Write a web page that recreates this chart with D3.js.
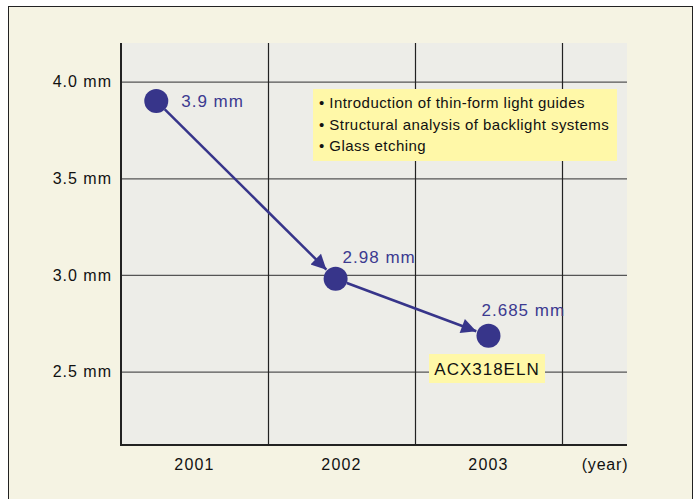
<!DOCTYPE html>
<html>
<head>
<meta charset="utf-8">
<script src="https://cdn.jsdelivr.net/npm/d3@7"></script>
<style>
  body { margin: 0; background: #fff; }
  svg text { font-family: "Liberation Sans", Arial, sans-serif; }
</style>
</head>
<body>
<div id="chart"></div>
<script>
// data
var years = [2001, 2002, 2003]
var pointYears = [2001.24, 2002.46, 2003.5]   // position inside each year
var thickness = [3.9, 2.98, 2.685]
var valueLabels = ["3.9 mm", "2.98 mm", "2.685 mm"]
var yTicks = [2.5, 3.0, 3.5, 4.0]
var notes = ["• Introduction of thin-form light guides",
             "• Structural analysis of backlight systems",
             "• Glass etching"]
var modelName = "ACX318ELN"

var W = 699, H = 499
var plot = {left: 121, right: 627, top: 43, bottom: 445}
var dotColor = "#37358a"

var svg = d3.select("#chart").append("svg")
    .attr("width", W)
    .attr("height", H)

svg.append("defs").append("marker")
    .attr("id", "arrow")
    .attr("viewBox", "0 0 10 10")
    .attr("refX", 10).attr("refY", 5)
    .attr("markerUnits", "userSpaceOnUse")
    .attr("markerWidth", 19).attr("markerHeight", 15)
    .attr("orient", "auto")
  .append("path")
    .attr("d", "M0,0 L10,5 L0,10 z")
    .attr("fill", dotColor)

// outer frame
svg.append("rect")
    .attr("x", 8.5).attr("y", 6.5)
    .attr("width", 684).attr("height", 510)
    .attr("fill", "#f5f3e3")
    .attr("stroke", "#222")
    .attr("stroke-width", 1)

var x = d3.scaleLinear()
    .domain([2001, 2004])
    .range([plot.left, 562])

var y = d3.scaleLinear()
    .domain([2.12, 4.2])
    .range([plot.bottom, plot.top])

svg.append("rect")
    .attr("x", plot.left).attr("y", plot.top)
    .attr("width", plot.right - plot.left)
    .attr("height", plot.bottom - plot.top)
    .attr("fill", "#ededE8")

// horizontal grid
svg.append("g")
    .attr("class", "grid grid--y")
    .attr("transform", "translate(" + plot.left + ",0)")
    .call(d3.axisLeft(y)
        .tickValues(yTicks)
        .tickSize(-(plot.right - plot.left))
        .tickFormat(""))
    .call(function(g){
        g.select(".domain").remove()
        g.selectAll("line").attr("stroke", "#555").attr("stroke-width", 1.2)
    })

// vertical grid
svg.append("g")
    .attr("class", "grid grid--x")
    .attr("transform", "translate(0," + plot.top + ")")
    .call(d3.axisTop(x)
        .tickValues([2002, 2003, 2004])
        .tickSize(-(plot.bottom - plot.top))
        .tickFormat(""))
    .call(function(g){
        g.select(".domain").remove()
        g.selectAll("line").attr("stroke", "#222").attr("stroke-width", 1.2)
    })

// axis lines
svg.append("line")
    .attr("x1", plot.left).attr("x2", plot.left)
    .attr("y1", plot.top).attr("y2", plot.bottom + 1)
    .attr("stroke", "#222").attr("stroke-width", 2)
svg.append("line")
    .attr("x1", plot.left).attr("x2", plot.right)
    .attr("y1", plot.bottom).attr("y2", plot.bottom)
    .attr("stroke", "#222").attr("stroke-width", 2)

// y labels
svg.append("g")
    .attr("class", "axis axis--y")
    .attr("transform", "translate(" + plot.left + ",0)")
    .call(d3.axisLeft(y)
        .tickValues(yTicks)
        .tickSize(0)
        .tickPadding(9)
        .tickFormat(function(d){ return d3.format(".1f")(d) + " mm" }))
    .call(function(g){
        g.select(".domain").remove()
        g.selectAll("text").attr("font-size", 16).attr("fill", "#111")
            .attr("letter-spacing", 1)
            .attr("font-family", "Liberation Sans, Arial, sans-serif")
    })

// x labels (centred in each year)
svg.append("g")
    .attr("class", "axis axis--x")
    .selectAll("text")
    .data(years)
    .join("text")
    .attr("x", function(d){ return x(d + 0.5) })
    .attr("y", 470)
    .attr("text-anchor", "middle")
    .attr("font-size", 16)
    .attr("letter-spacing", 1.2)
    .attr("fill", "#111")
    .text(function(d){ return d })

svg.append("text")
    .attr("x", 605).attr("y", 470)
    .attr("text-anchor", "middle")
    .attr("font-size", 16)
    .attr("letter-spacing", 0.8)
    .attr("fill", "#111")
    .text("(year)")

// notes box
var notesBox = svg.append("g")
notesBox.append("rect")
    .attr("x", 313).attr("y", 89)
    .attr("width", 304).attr("height", 72)
    .attr("fill", "#fff8a8")
notesBox.selectAll("text")
    .data(notes)
    .join("text")
    .attr("x", 319)
    .attr("y", function(d, i){ return 108 + i * 21.5 })
    .attr("font-size", 15)
    .attr("letter-spacing", 0.45)
    .attr("fill", "#111")
    .text(function(d){ return d })

// arrows between points
var pts = pointYears.map(function(d, i){ return {x: x(d), y: y(thickness[i])} })
var r = 12
for (var i = 0; i < pts.length - 1; i++){
    var a = pts[i], b = pts[i + 1]
    var dx = b.x - a.x, dy = b.y - a.y
    var len = Math.sqrt(dx * dx + dy * dy)
    svg.append("line")
        .attr("x1", a.x + dx / len * r).attr("y1", a.y + dy / len * r)
        .attr("x2", b.x - dx / len * (r + 1)).attr("y2", b.y - dy / len * (r + 1))
        .attr("stroke", dotColor)
        .attr("stroke-width", 2.5)
        .attr("marker-end", "url(#arrow)")
}

svg.append("g")
    .selectAll("circle")
    .data(pts)
    .join("circle")
    .attr("cx", function(d){ return d.x })
    .attr("cy", function(d){ return d.y })
    .attr("r", r)
    .attr("fill", dotColor)

// value labels
var labelOffsets = [{dx: 25, dy: 6}, {dx: 7, dy: -16}, {dx: -7, dy: -20}]
svg.append("g")
    .selectAll("text")
    .data(valueLabels)
    .join("text")
    .attr("x", function(d, i){ return pts[i].x + labelOffsets[i].dx })
    .attr("y", function(d, i){ return pts[i].y + labelOffsets[i].dy })
    .attr("font-size", 17)
    .attr("letter-spacing", 1)
    .attr("fill", "#3c3a90")
    .text(function(d){ return d })

// model label
svg.append("rect")
    .attr("x", 429).attr("y", 354)
    .attr("width", 116).attr("height", 29)
    .attr("fill", "#fff8a8")
svg.append("text")
    .attr("x", 487).attr("y", 375)
    .attr("text-anchor", "middle")
    .attr("font-size", 17)
    .attr("letter-spacing", 1)
    .attr("fill", "#111")
    .text(modelName)
</script>
</body>
</html>
